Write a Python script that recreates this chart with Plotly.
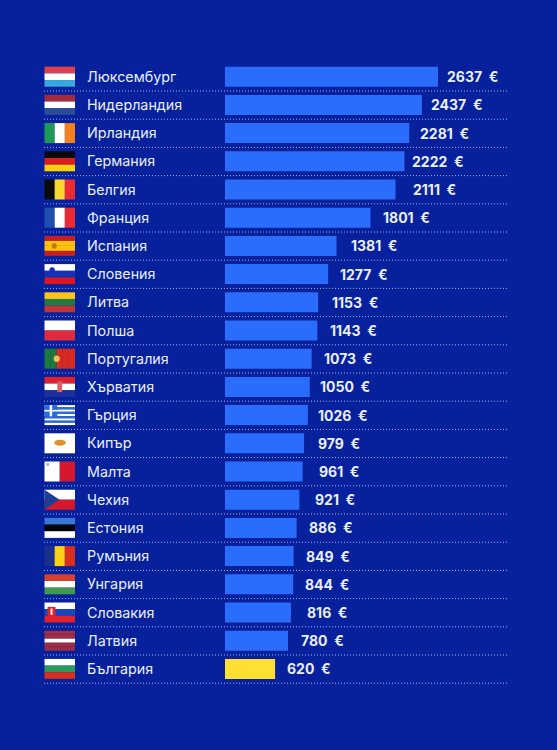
import plotly.graph_objects as go

countries = ["Люксембург", "Нидерландия", "Ирландия", "Германия", "Белгия", "Франция", "Испания",
             "Словения", "Литва", "Полша", "Португалия", "Хърватия", "Гърция", "Кипър", "Малта",
             "Чехия", "Естония", "Румъния", "Унгария", "Словакия", "Латвия", "България"]
wages = [2637, 2437, 2281, 2222, 2111, 1801, 1381, 1277, 1153, 1143, 1073, 1050, 1026, 979, 961,
         921, 886, 849, 844, 816, 780, 620]

BG = "#07209c"
BAR = "#2a6cfb"
YELLOW = "#fde031"
TXT = "#e8eefb"
W, H = 557, 750
X0, PPU = 225, 213 / 2637
Y0, PITCH = 76.7, 28.2
FL, FR = 44.5, 75

# (orientation, stripes)
flags = [
    ("h", ["#e0404a", "#ffffff", "#38a8dc"]),
    ("h", ["#a82a3a", "#ffffff", "#2c4c98"]),
    ("v", ["#1f9a55", "#ffffff", "#f5801e"]),
    ("h", ["#0a0a0a", "#dd1c20", "#fdd00a"]),
    ("v", ["#0a0a0a", "#fbd82e", "#ec2a34"]),
    ("v", ["#1f4fb0", "#ffffff", "#ec2a34"]),
    ("h", ["#c81e28", "#fcc20c", "#fcc20c", "#c81e28"]),
    ("h", ["#ffffff", "#1232b8", "#e0141e"]),
    ("h", ["#fbc31c", "#1f7a44", "#c0343a"]),
    ("h", ["#ffffff", "#e02a3e"]),
    ("v", ["#1b7a3a", "#1b7a3a", "#d92a20", "#d92a20", "#d92a20"]),
    ("h", ["#e0202a", "#ffffff", "#1c2f9c"]),
    ("h", ["#ffffff", "#2a6cd8", "#ffffff", "#2a6cd8", "#ffffff", "#2a6cd8", "#ffffff", "#2a6cd8", "#ffffff"]),
    ("h", ["#ffffff"]),
    ("v", ["#ffffff", "#d6182c"]),
    ("h", ["#ffffff", "#d6182c"]),
    ("h", ["#3a78d8", "#050505", "#ffffff"]),
    ("v", ["#1c2f8c", "#fcd116", "#d8301c"]),
    ("h", ["#d6402c", "#ffffff", "#3f9a50"]),
    ("h", ["#ffffff", "#1a45c0", "#e0202a"]),
    ("h", ["#9e2e42", "#9e2e42", "#ffffff", "#9e2e42", "#9e2e42"]),
    ("h", ["#ffffff", "#2a9a5a", "#d6301e"]),
]
# extra flag details: row, kind, x0, x1, y0, y1 in fractions of the flag, colour
details = [
    (6, "circle", .24, .40, .36, .64, "#c8761e"),
    (7, "circle", .16, .34, .16, .46, "#1232b8"),
    (10, "circle", .30, .50, .34, .66, "#e8c060"),
    (11, "rect", .42, .58, .22, .76, "#d8606c"),
    (12, "rect", 0, .42, 0, .56, "#2a6cd8"),
    (12, "rect", .17, .25, 0, .56, "#ffffff"),
    (12, "rect", 0, .42, .24, .32, "#ffffff"),
    (13, "circle", .32, .70, .32, .62, "#e0902c"),
    (14, "rect", .06, .16, .08, .22, "#b8b8c0"),
    (19, "rect", .10, .36, .22, .74, "#e0202a"),
    (19, "rect", .20, .26, .30, .62, "#ffffff"),
]


def px_x(p):
    return p / W


def row_y(px_offset):
    return px_offset / PITCH


fig = go.Figure()
fig.add_bar(
    x=wages, y=list(range(len(wages))), orientation="h", width=20 / PITCH,
    marker=dict(color=[YELLOW if c == "България" else BAR for c in countries], line_width=0),
    hoverinfo="skip",
)

shapes = []
for i, (kind, stripes) in enumerate(flags):
    top, bottom = i - row_y(10), i + row_y(10)
    n = len(stripes)
    for k, col in enumerate(stripes):
        if kind == "h":
            x0, x1 = FL, FR
            y0, y1 = top + (bottom - top) * k / n, top + (bottom - top) * (k + 1) / n
        else:
            x0, x1 = FL + (FR - FL) * k / n, FL + (FR - FL) * (k + 1) / n
            y0, y1 = top, bottom
        shapes.append(dict(type="rect", xref="paper", yref="y", x0=px_x(x0), x1=px_x(x1), y0=y0, y1=y1,
                           fillcolor=col, line_width=0, layer="above"))
    # dotted separator below each row
    shapes.append(dict(type="line", xref="paper", yref="y", x0=px_x(44), x1=px_x(507), y0=i + row_y(14.3),
                       y1=i + row_y(14.3), line=dict(color="#9db2f2", width=1, dash="1px,2px"), layer="above"))

# Czech hoist triangle
ct, cb = 15 - row_y(10), 15 + row_y(10)
shapes.append(dict(type="path", xref="paper", yref="y",
                   path=f"M {px_x(FL)} {ct} L {px_x(FL + 15)} {15} L {px_x(FL)} {cb} Z",
                   fillcolor="#1c3f94", line_width=0, layer="above"))
for row, kind, fx0, fx1, fy0, fy1, col in details:
    top = row - row_y(10)
    span = row_y(20)
    shapes.append(dict(type=kind, xref="paper", yref="y",
                       x0=px_x(FL + (FR - FL) * fx0), x1=px_x(FL + (FR - FL) * fx1),
                       y0=top + span * fy0, y1=top + span * fy1,
                       fillcolor=col, line_width=0, layer="above"))

annotations = []
for i, (c, v) in enumerate(zip(countries, wages)):
    annotations.append(dict(x=px_x(85), y=i, xref="paper", yref="y", text=c, showarrow=False, xanchor="left",
                            yanchor="middle", yshift=0.5, font=dict(family="Inter", size=14.3, color=TXT)))
    annotations.append(dict(x=v, y=i, xref="x", yref="y", text=f"<b>{v}  €</b>", showarrow=False, xanchor="right",
                            yanchor="middle", xshift=62 if v >= 1000 else 58,
                            font=dict(family="Inter", size=14, color=TXT)))

fig.update_layout(
    width=W, height=H, margin=dict(l=0, r=0, t=0, b=0), paper_bgcolor=BG, plot_bgcolor=BG,
    showlegend=False, shapes=shapes, annotations=annotations,
    xaxis=dict(range=[-X0 / PPU, (W - X0) / PPU], visible=False, fixedrange=True),
    yaxis=dict(range=[(H - Y0) / PITCH, -Y0 / PITCH], visible=False, fixedrange=True),
)
fig.write_html("out.html", config=dict(displayModeBar=False),
               post_script=f"document.documentElement.style.overflow='hidden';document.body.style.margin='0';document.body.style.background='{BG}';")
